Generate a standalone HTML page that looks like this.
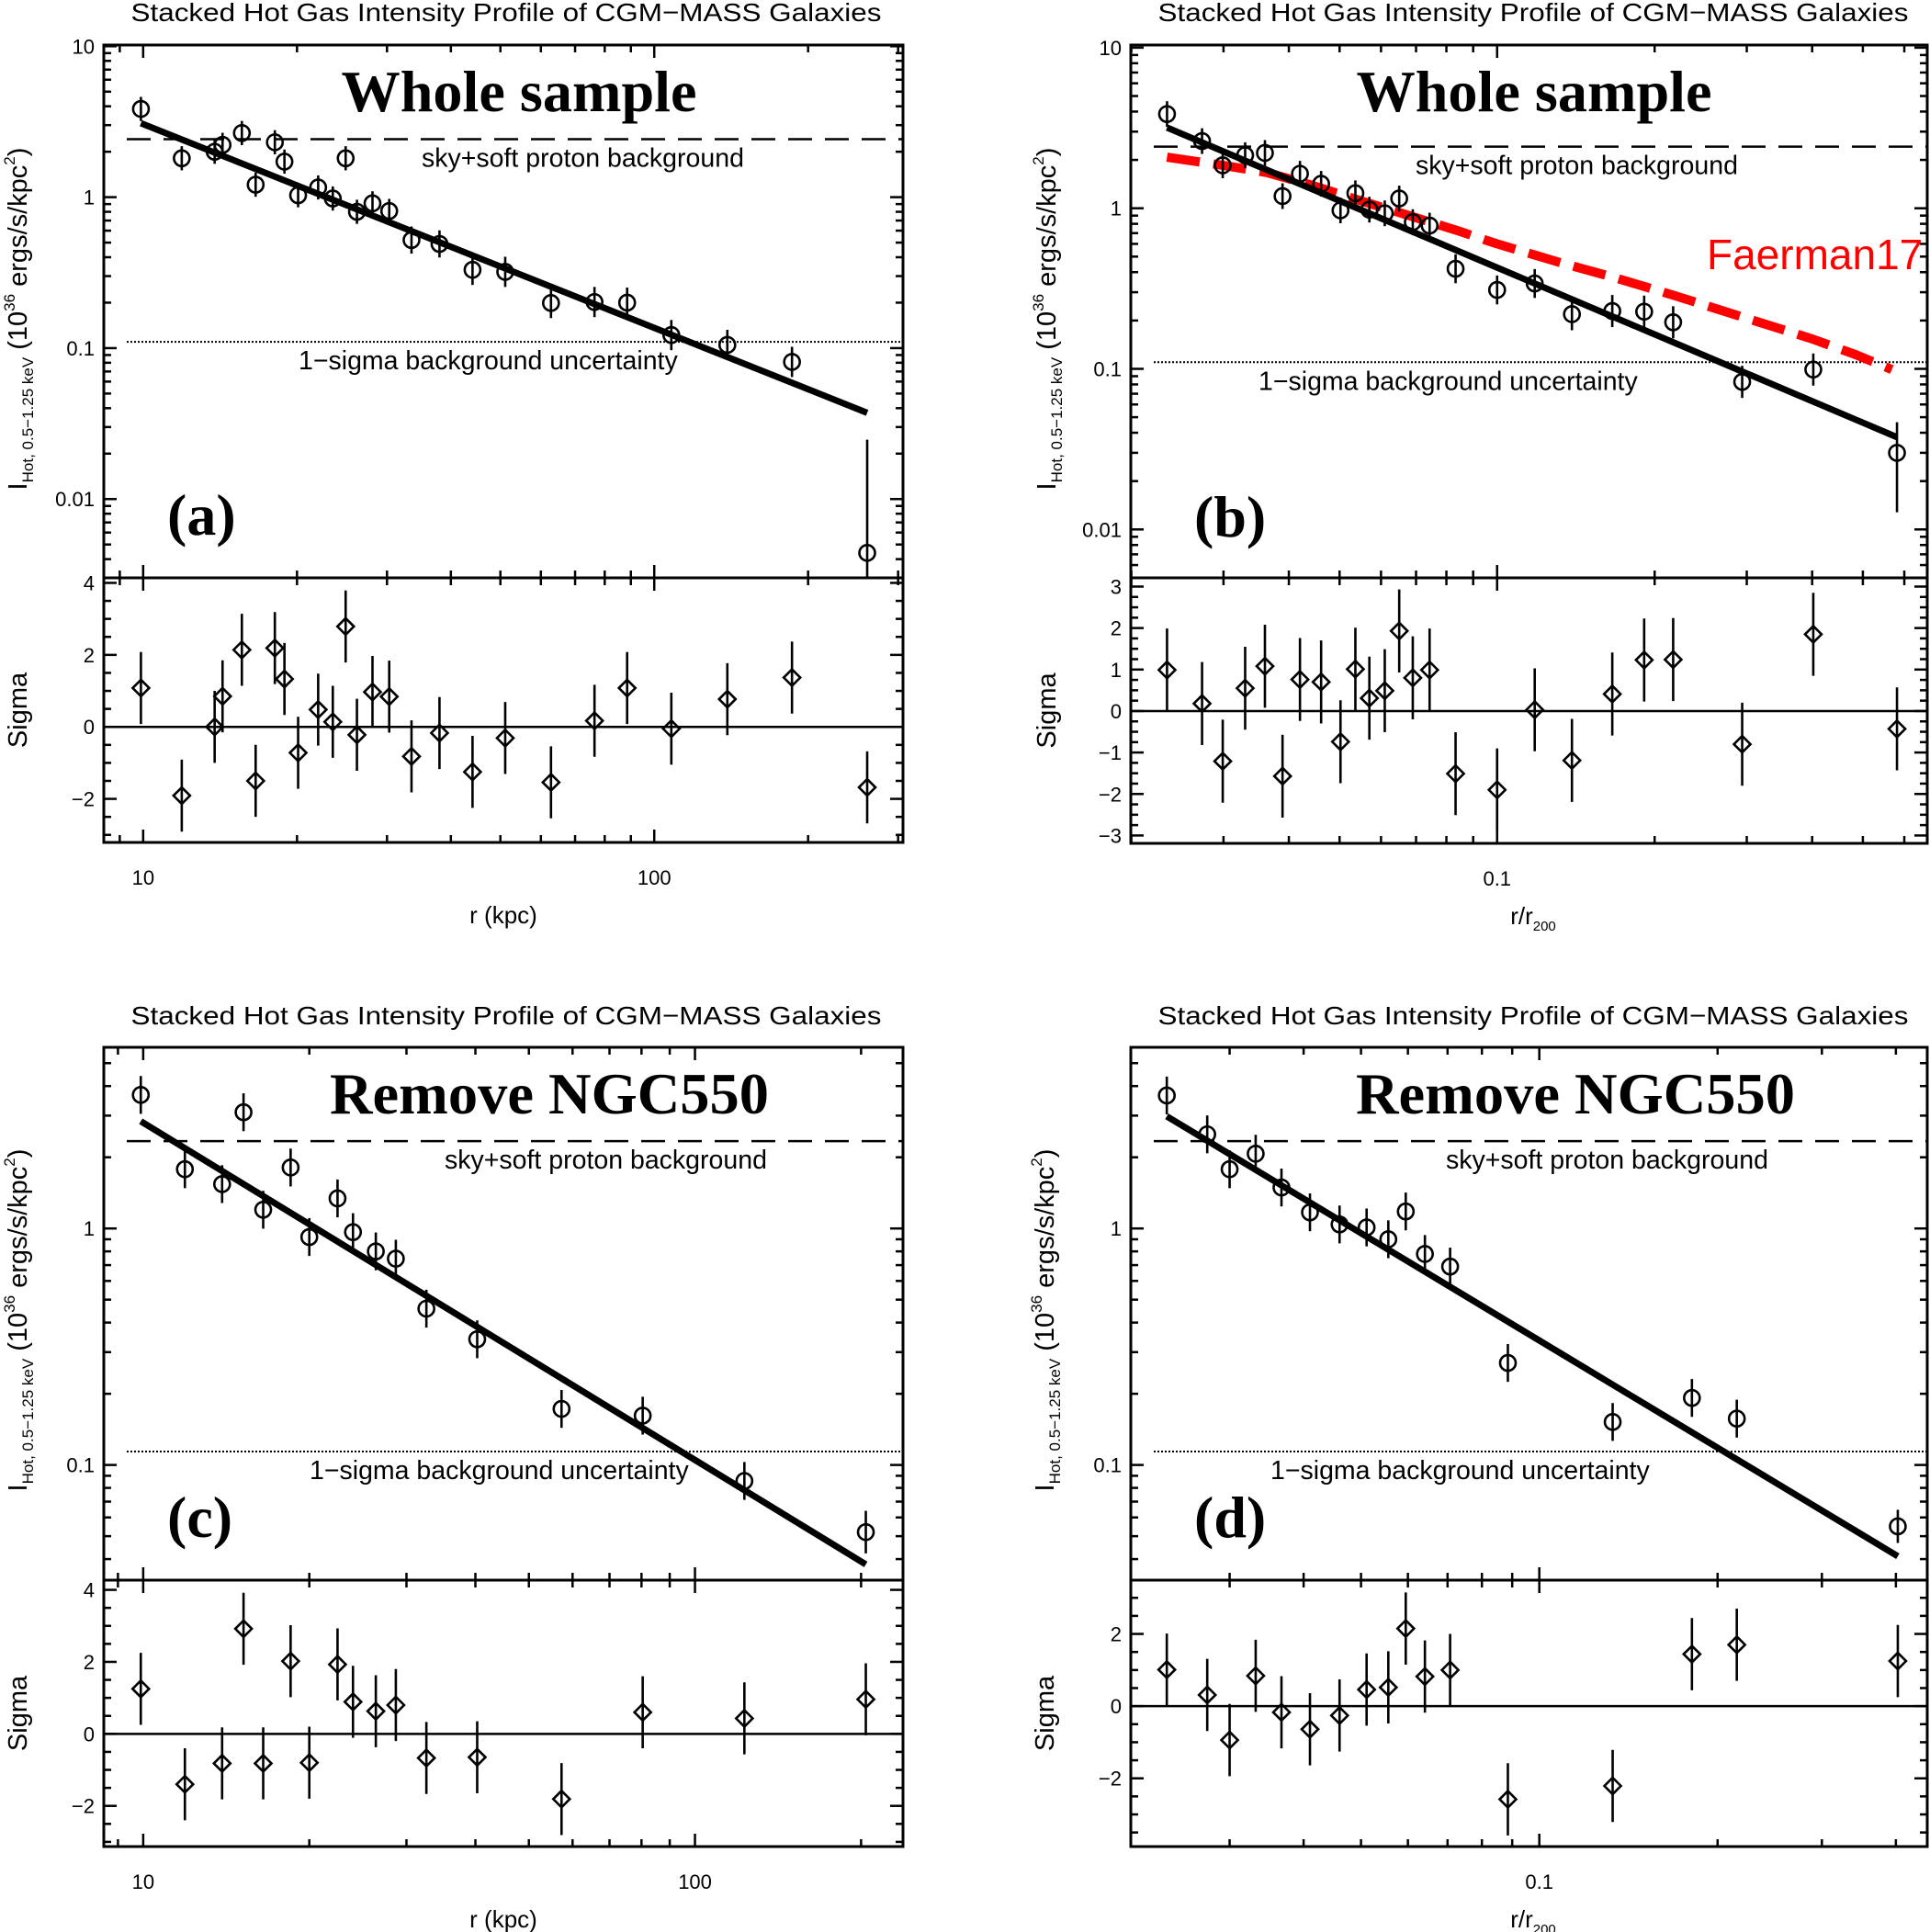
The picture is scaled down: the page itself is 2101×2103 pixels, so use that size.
<!DOCTYPE html>
<html><head><meta charset="utf-8"><title>Stacked Hot Gas Intensity Profiles</title>
<style>
html,body{margin:0;padding:0;background:#fff;}
svg{display:block;}
text{font-family:"Liberation Sans",sans-serif;fill:#000;}
.serif{font-family:"Liberation Serif",serif;font-weight:bold;}
</style></head>
<body>
<svg id="fig" xmlns="http://www.w3.org/2000/svg" width="2101" height="2103" viewBox="0 0 2101 2103"></svg>
<script>
// ---------- Panel (a): whole sample, r (kpc) ----------
const aR = [9.9,11.9,13.8,14.3,15.6,16.6,18.1,18.9,20.1,22.0,23.5,24.9,26.2,28.1,30.3,33.5,38.0,44.1,51.1,62.8,76.4,88.5,108,139,186,261];
const aI = [3.84,1.81,2.0,2.22,2.66,1.21,2.31,1.72,1.03,1.16,0.98,1.81,0.80,0.91,0.81,0.52,0.49,0.33,0.32,0.199,0.202,0.20,0.122,0.105,0.081,0.0044];
const aErrUp = [0.08,0.08,0.08,0.08,0.08,0.08,0.08,0.08,0.08,0.08,0.08,0.08,0.08,0.08,0.08,0.09,0.09,0.1,0.1,0.1,0.1,0.1,0.1,0.1,0.1,0.75];
const aErrDn = [0.08,0.08,0.08,0.08,0.08,0.08,0.08,0.08,0.08,0.08,0.08,0.08,0.08,0.08,0.08,0.09,0.09,0.1,0.1,0.1,0.1,0.1,0.1,0.1,0.1,2];
const aSig = [1.08,-1.91,0,0.85,2.14,-1.5,2.19,1.33,-0.72,0.48,0.14,2.79,-0.22,0.97,0.84,-0.82,-0.17,-1.25,-0.31,-1.54,0.17,1.08,-0.05,0.77,1.37,-1.68];
const aFit = [3.09,-1.35]; // value at r=10, slope
const aBg = [2.42,0.11];
const aXTicks = ["10","100"];
const aYTicks = ["10","1","0.1","0.01"];
const aSTicks = ["4","2","0","−2"];

// ---------- Panel (b): whole sample, r/r200 ----------
const bR = [0.0234,0.0273,0.0299,0.0330,0.0360,0.0389,0.0420,0.0461,0.0502,0.0536,0.057,0.061,0.065,0.069,0.0743,0.0833,0.100,0.118,0.139,0.166,0.191,0.217,0.294,0.402,0.581];
const bI = [3.86,2.62,1.85,2.14,2.21,1.19,1.64,1.42,0.97,1.24,0.98,0.93,1.15,0.82,0.78,0.42,0.31,0.34,0.219,0.229,0.227,0.195,0.083,0.099,0.030];
const bErrUp = [0.08,0.08,0.08,0.08,0.08,0.08,0.08,0.08,0.08,0.08,0.08,0.08,0.08,0.08,0.08,0.09,0.09,0.09,0.1,0.1,0.1,0.1,0.1,0.1,0.19];
const bErrDn = [0.08,0.08,0.08,0.08,0.08,0.08,0.08,0.08,0.08,0.08,0.08,0.08,0.08,0.08,0.08,0.09,0.09,0.09,0.1,0.1,0.1,0.1,0.1,0.1,0.37];
const bSig = [0.99,0.18,-1.21,0.55,1.08,-1.57,0.76,0.70,-0.74,1.01,0.31,0.49,1.93,0.80,0.99,-1.51,-1.90,0.03,-1.19,0.41,1.23,1.24,-0.80,1.85,-0.43];
const bFit = [3.18,-1.382,0.0234,0.581];
const bBg = [2.42,0.11];
const bModelR = [0.0234,0.0296,0.0363,0.0439,0.0546,0.0679,0.0845,0.0994,0.1305,0.1668,0.219,0.296,0.399,0.483,0.568];
const bModelI = [2.08,1.86,1.67,1.40,1.12,0.90,0.721,0.604,0.464,0.372,0.285,0.209,0.154,0.123,0.0989];
const bXTicks = ["0.1"];
const bYTicks = ["10","1","0.1","0.01"];
const bSTicks = ["3","2","1","0","−1","−2","−3"];

// ---------- Panel (c): remove NGC550, r (kpc) ----------
const cR = [9.9,11.9,13.9,15.2,16.5,18.5,20.0,22.5,24.0,26.4,28.7,32.6,40.3,57.3,80.4,122.9,204];
const cI = [3.67,1.78,1.54,3.10,1.20,1.81,0.92,1.34,0.965,0.80,0.745,0.458,0.34,0.1726,0.1616,0.0856,0.052];
const cErr = [0.08,0.08,0.08,0.08,0.08,0.08,0.08,0.08,0.08,0.08,0.08,0.08,0.08,0.08,0.08,0.08,0.09];
const cSig = [1.25,-1.40,-0.82,2.92,-0.82,2.02,-0.80,1.93,0.89,0.63,0.80,-0.67,-0.65,-1.81,0.60,0.43,0.96];
const cFit = [2.84,-1.426,9.9,204];
const cBg = [2.34,0.114];
const cXTicks = ["10","100"];
const cYTicks = ["1","0.1"];
const cSTicks = ["4","2","0","−2"];

// ---------- Panel (d): remove NGC550, r/r200 ----------
const dR = [0.0235,0.0275,0.0300,0.0332,0.0367,0.0410,0.0460,0.0511,0.0556,0.0595,0.0641,0.0707,0.0885,0.133,0.181,0.2155,0.403];
const dI = [3.65,2.50,1.78,2.07,1.49,1.17,1.04,1.01,0.90,1.18,0.78,0.69,0.27,0.152,0.192,0.157,0.055];
const dErr = [0.08,0.08,0.08,0.08,0.08,0.08,0.08,0.08,0.08,0.08,0.08,0.08,0.08,0.08,0.08,0.08,0.07];
const dSig = [1.01,0.31,-0.94,0.84,-0.17,-0.64,-0.26,0.46,0.52,2.15,0.82,1.00,-2.58,-2.21,1.44,1.70,1.25];
const dFit = [2.98,-1.507,0.0235,0.403];
const dBg = [2.34,0.114];
const dXTicks = ["0.1"];
const dYTicks = ["1","0.1"];
const dSTicks = ["2","0","−2"];

const NS = "http://www.w3.org/2000/svg";
const svg = document.getElementById("fig");
function mk(parent, tag, attrs, txt){
  const e = document.createElementNS(NS, tag);
  for (const k in attrs) e.setAttribute(k, attrs[k]);
  if (txt !== undefined) e.textContent = txt;
  parent.appendChild(e);
  return e;
}
const L10 = Math.log10;

function panel(cfg){
  const g = mk(svg, "g", {});
  
  
  const X0=cfg.x0, X1=cfg.x1, Y0=cfg.y0, YM=cfg.ym, Y1=cfg.y1;
  const sx = v => X0 + (L10(v)-cfg.lx0)/(cfg.lx1-cfg.lx0)*(X1-X0);
  const sy = v => Y0 + (cfg.ly1-L10(v))/(cfg.ly1-cfg.ly0)*(YM-Y0);
  const ss = v => YM + (cfg.s1-v)/(cfg.s1-cfg.s0)*(Y1-YM);
  const syl = lv => Y0 + (cfg.ly1-lv)/(cfg.ly1-cfg.ly0)*(YM-Y0);

  const t = mk(g, "text", {x:cfg.tx, y:cfg.ty, "font-size":28, "text-anchor":"middle", textLength:817, lengthAdjust:"spacingAndGlyphs"}, "Stacked Hot Gas Intensity Profile of CGM−MASS Galaxies");
  
  

  const f1 = mk(g, "rect", {x:X0, y:Y0, width:X1-X0, height:YM-Y0, fill:"none", stroke:"#000", "stroke-width":3});
  
  
  const f2 = mk(g, "rect", {x:X0, y:YM, width:X1-X0, height:Y1-YM, fill:"none", stroke:"#000", "stroke-width":3});
  
  

  const xt = mk(g, "g", {stroke:"#000", "stroke-width":2.5});
  
  
  for (let d=Math.floor(cfg.lx0); d<=Math.ceil(cfg.lx1); d++){
    for (let m=1; m<10; m++){
      const lv = d + L10(m);
      if (lv < cfg.lx0 || lv > cfg.lx1) continue;
      const x = X0 + (lv-cfg.lx0)/(cfg.lx1-cfg.lx0)*(X1-X0);
      const len = m===1 ? 14 : 8;
      for (const yy of [Y0, YM, Y1]) {
        if (yy!==Y0) mk(xt, "line", {x1:x, y1:yy, x2:x, y2:yy-len});
        if (yy!==Y1) mk(xt, "line", {x1:x, y1:yy, x2:x, y2:yy+len});
      }
    }
  }
  cfg.xt.forEach(s => {
    const x = sx(parseFloat(s));
    const e = mk(g, "text", {x:x, y:Y1+46, "font-size":22, "text-anchor":"middle"}, s);
    
    
  });
  const yt = mk(g, "g", {stroke:"#000", "stroke-width":2.5});
  
  
  for (let d=Math.floor(cfg.ly0); d<=Math.ceil(cfg.ly1); d++){
    for (let m=1; m<10; m++){
      const lv = d + L10(m);
      if (lv < cfg.ly0 || lv > cfg.ly1) continue;
      const y = syl(lv);
      const len = m===1 ? 14 : 8;
      mk(yt, "line", {x1:X0, y1:y, x2:X0+len, y2:y});
      mk(yt, "line", {x1:X1, y1:y, x2:X1-len, y2:y});
    }
  }
  cfg.yt.forEach(s => {
    const e = mk(g, "text", {x:X0-10, y:sy(parseFloat(s))+8, "font-size":22, "text-anchor":"end"}, s);
    
    
  });
  for (let v=Math.ceil(cfg.s0/cfg.sminor)*cfg.sminor; v<=cfg.s1+1e-9; v+=cfg.sminor){
    const y = ss(v);
    const major = Math.abs(v/cfg.smajor - Math.round(v/cfg.smajor))<1e-6;
    const len = major ? 14 : 8;
    mk(yt, "line", {x1:X0, y1:y, x2:X0+len, y2:y});
    mk(yt, "line", {x1:X1, y1:y, x2:X1-len, y2:y});
  }
  cfg.st.forEach(s => {
    const v = parseFloat(s.replace("−","-"));
    const e = mk(g, "text", {x:X0-10, y:ss(v)+8, "font-size":22, "text-anchor":"end"}, s);
    
    
  });

  const xl = mk(g, "text", {x:cfg.xlx, y:Y1+88, "font-size":26, "text-anchor":"middle"});
  
  
  if (cfg.kpc) { xl.textContent = "r (kpc)"; }
  else {
    mk(xl, "tspan", {}, "r/r");
    mk(xl, "tspan", {"font-size":15, dy:7}, "200");
  }
  const ylab = mk(g, "text", {transform:`translate(${cfg.ytx},${cfg.yty}) rotate(-90)`, "font-size":29, "text-anchor":"middle"});
  
  
  mk(ylab, "tspan", {}, "I");
  mk(ylab, "tspan", {"font-size":17, dy:7}, "Hot, 0.5−1.25 keV");
  mk(ylab, "tspan", {dy:-7}, " (10");
  mk(ylab, "tspan", {"font-size":17, dy:-13}, "36");
  mk(ylab, "tspan", {dy:13}, " ergs/s/kpc");
  mk(ylab, "tspan", {"font-size":17, dy:-13}, "2");
  mk(ylab, "tspan", {dy:13}, ")");
  const sl = mk(g, "text", {transform:`translate(${cfg.ytx},${(YM+Y1)/2}) rotate(-90)`, "font-size":29, "text-anchor":"middle"}, "Sigma");
  
  

  const bg1 = mk(g, "line", {x1:X0+25, x2:X1, y1:sy(cfg.bg[0]), y2:sy(cfg.bg[0]), stroke:"#000", "stroke-width":2.5, "stroke-dasharray":"26 14"});
  
  
  const bg2 = mk(g, "line", {x1:X0+25, x2:X1, y1:sy(cfg.bg[1]), y2:sy(cfg.bg[1]), stroke:"#000", "stroke-width":2, "stroke-dasharray":"2 2"});
  
  
  const bt1 = mk(g, "text", {x:cfg.skyx, y:sy(cfg.bg[0])+30, "font-size":28.5}, "sky+soft proton background");
  
  
  const bt2 = mk(g, "text", {x:cfg.sigx, y:sy(cfg.bg[1])+30, "font-size":28.5}, "1−sigma background uncertainty");
  
  

  const big = mk(g, "text", {x:cfg.bigx, y:Y0+72, "font-size":64, "text-anchor":"middle", "class":"serif", textLength:cfg.bigw, lengthAdjust:"spacingAndGlyphs"}, cfg.big);
  
  
  const pl = mk(g, "text", {x:X0+69, y:cfg.ply, "font-size":64, "class":"serif"}, cfg.pl);
  
  

  if (cfg.mr){
    const pts = cfg.mr.map((r,i)=>`${sx(r).toFixed(1)},${sy(cfg.mi[i]).toFixed(1)}`).join(" ");
    const m = mk(g, "polyline", {points:pts, fill:"none", stroke:"#ff0000", "stroke-width":10, "stroke-dasharray":"36 15"});
    
    
    const mt = mk(g, "text", {x:1858, y:293, "font-size":46, fill:"#ff0000", style:"fill:#ff0000"}, "Faerman17");
    
    
  }

  const xa = cfg.fit[2], xb = cfg.fit[3];
  const ya = cfg.fit[0], yb = cfg.fit[0]*Math.pow(xb/xa, cfg.fit[1]);
  const fl = mk(g, "line", {x1:sx(xa), y1:sy(ya), x2:sx(xb), y2:sy(yb), stroke:"#000", "stroke-width":7});
  
  

  const dg = mk(g, "g", {stroke:"#000", "stroke-width":2.6, fill:"none"});
  
  
  cfg.r.forEach((r,i)=>{
    const x = sx(r), y = sy(cfg.I[i]);
    const yTop = syl(L10(cfg.I[i]) + cfg.eu[i]);
    const yBot = Math.min(YM, syl(L10(cfg.I[i]) - cfg.ed[i]));
    const el = mk(dg, "line", {x1:x, x2:x, y1:yTop, y2:yBot});
    
    
    const c = mk(dg, "circle", {cx:x, cy:y, r:8.5, fill:"none"});
    
    
  });
  const zl = mk(g, "line", {x1:X0, x2:X1, y1:ss(0), y2:ss(0), stroke:"#000", "stroke-width":2.5});
  
  
  const sg = mk(g, "g", {stroke:"#000", "stroke-width":2.6, fill:"none"});
  
  
  cfg.r.forEach((r,i)=>{
    const x = sx(r), y = ss(cfg.sig[i]);
    const el = mk(sg, "line", {x1:x, x2:x, y1:ss(cfg.sig[i]+1), y2:ss(cfg.sig[i]-1)});
    
    
    const h = 9;
    const dm = mk(sg, "polygon", {points:`${x},${y-h} ${x+h},${y} ${x},${y+h} ${x-h},${y}`, fill:"none"});
    
    
  });
}

panel({name:"panel-a", x0:113, x1:983, y0:49, ym:629, y1:917,
  lx0:0.923, lx1:2.4867, ly0:-2.522, ly1:1.008, s0:-3.21, s1:4.14, smajor:2, sminor:0.5,
  tx:551, ty:23, xlx:548, ytx:29, yty:347, skyx:459, sigx:325, bigx:565, bigw:387, ply:582,
  big:"Whole sample", pl:"(a)", kpc:true,
  r:aR, I:aI, eu:aErrUp, ed:aErrDn, sig:aSig, fit:[aFit[0],aFit[1],9.9,261], bg:aBg,
  xt:aXTicks, yt:aYTicks, st:aSTicks});
panel({name:"panel-b", x0:1231, x1:2098, y0:49, ym:629, y1:918,
  lx0:-1.700, lx1:-0.178, ly0:-2.3015, ly1:1.0165, s0:-3.19, s1:3.21, smajor:1, sminor:0.25,
  tx:1669, ty:23, xlx:1669, ytx:1149, yty:347, skyx:1541, sigx:1370, bigx:1670, bigw:387, ply:584,
  big:"Whole sample", pl:"(b)", kpc:false,
  r:bR, I:bI, eu:bErrUp, ed:bErrDn, sig:bSig, fit:bFit, bg:bBg, mr:bModelR, mi:bModelI,
  xt:bXTicks, yt:bYTicks, st:bSTicks});
panel({name:"panel-c", x0:113, x1:983, y0:1140, ym:1720, y1:2010,
  lx0:0.9286, lx1:2.377, ly0:-1.487, ly1:0.766, s0:-3.13, s1:4.27, smajor:2, sminor:0.5,
  tx:551, ty:1115, xlx:548, ytx:29, yty:1437, skyx:484, sigx:337, bigx:598, bigw:478, ply:1673,
  big:"Remove NGC550", pl:"(c)", kpc:true,
  r:cR, I:cI, eu:cErr, ed:cErr, sig:cSig, fit:cFit, bg:cBg,
  xt:cXTicks, yt:cYTicks, st:cSTicks});
panel({name:"panel-d", x0:1231, x1:2098, y0:1140, ym:1720, y1:2010,
  lx0:-1.6897, lx1:-0.345, ly0:-1.487, ly1:0.766, s0:-3.89, s1:3.49, smajor:2, sminor:0.5,
  tx:1669, ty:1115, xlx:1669, ytx:1147, yty:1437, skyx:1574, sigx:1383, bigx:1715, bigw:478, ply:1673,
  big:"Remove NGC550", pl:"(d)", kpc:false,
  r:dR, I:dI, eu:dErr, ed:dErr, sig:dSig, fit:dFit, bg:dBg,
  xt:dXTicks, yt:dYTicks, st:dSTicks});
</script>
</body></html>
